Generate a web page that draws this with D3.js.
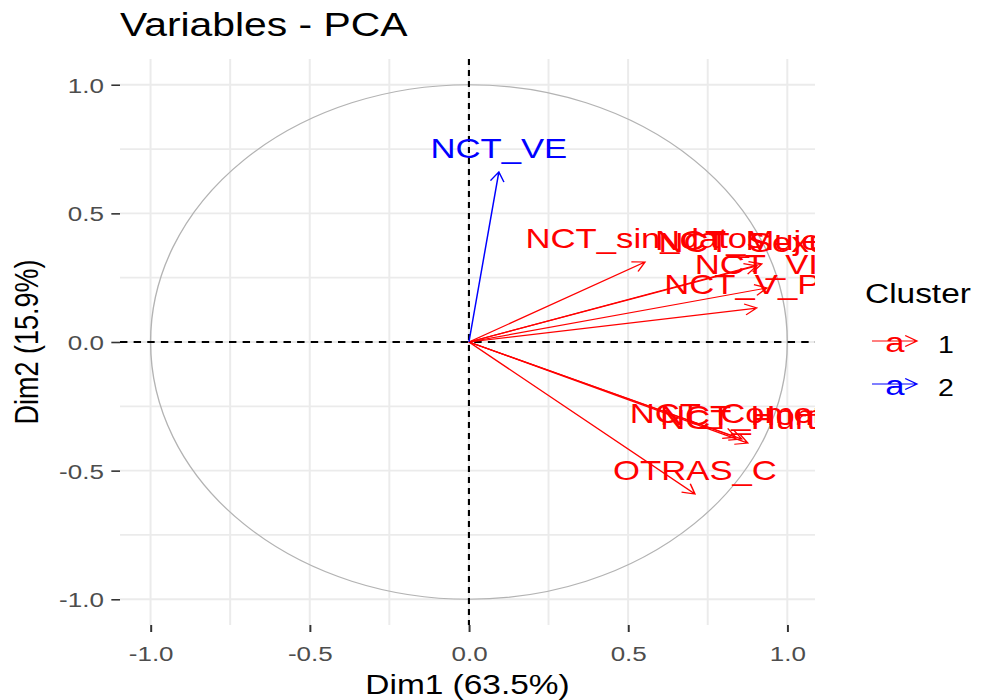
<!DOCTYPE html>
<html>
<head>
<meta charset="utf-8">
<script src="https://cdn.jsdelivr.net/npm/d3@7"></script>
<style>
  body { margin: 0; background: #fff; }
  svg { display: block; font-family: "Liberation Sans", Arial, sans-serif; }
</style>
</head>
<body>
<div id="chart"></div>
<script>
// variables and their coordinates on Dim1 / Dim2
const varNames = ['NCT_sin_datos', 'NCT_Sexual', 'NCT_Mujeres', 'NCT_VIF', 'NCT_V_Pat',
                  'NCT_Comerc', 'NCT_Hom', 'NCT_Hurto', 'OTRAS_C', 'NCT_VE'];
const dim1 = [0.553, 0.904, 0.920, 0.936, 0.904, 0.838, 0.857, 0.876, 0.710, 0.094];
const dim2 = [0.311, 0.296, 0.304, 0.210, 0.132, -0.370, -0.377, -0.393, -0.591, 0.661];
const cluster = ['1', '1', '1', '1', '1', '1', '1', '1', '1', '2'];
const clusters = ['1', '2'];
const tickValues = [-1, -0.5, 0, 0.5, 1];
const minorValues = [-0.75, -0.25, 0.25, 0.75];

// the picture is drawn narrower and stretched sideways to the window width
const outW = 981, height = 700;
const stretch = 1.2386;
const width = outW / stretch;

const panel = { left: 120 / stretch, right: 815 / stretch, top: 59, bottom: 625 };

const x = d3.scaleLinear().domain([-1.096, 1.087]).range([panel.left, panel.right]);
const y = d3.scaleLinear().domain([-1.1, 1.1]).range([panel.bottom, panel.top]);
const color = d3.scaleOrdinal().domain(clusters).range(['red', 'blue']);

const data = varNames.map((name, i) => ({ name, x: dim1[i], y: dim2[i], cluster: cluster[i] }));

const svg = d3.select('#chart').append('svg')
    .attr('width', outW)
    .attr('height', height)
    .attr('viewBox', `0 0 ${width} ${height}`)
    .attr('preserveAspectRatio', 'none');

svg.append('defs').append('clipPath').attr('id', 'panel-clip')
    .append('rect')
    .attr('x', panel.left).attr('y', panel.top)
    .attr('width', panel.right - panel.left)
    .attr('height', panel.bottom - panel.top);

// grid
const grid = svg.append('g');
const allGrid = tickValues.concat(minorValues);
grid.selectAll('.gx').data(allGrid).enter().append('line')
    .attr('x1', d => x(d)).attr('x2', d => x(d))
    .attr('y1', panel.top).attr('y2', panel.bottom)
    .attr('stroke', '#ebebeb').attr('stroke-width', 1.6);
grid.selectAll('.gy').data(allGrid).enter().append('line')
    .attr('y1', d => y(d)).attr('y2', d => y(d))
    .attr('x1', panel.left).attr('x2', panel.right)
    .attr('stroke', '#ebebeb').attr('stroke-width', 1.8);

// axes
const fmt = d => d.toFixed(1);
const xAxis = d3.axisBottom(x).tickValues(tickValues).tickFormat(fmt).tickSize(7).tickPadding(6);
const yAxis = d3.axisLeft(y).tickValues(tickValues).tickFormat(fmt).tickSize(7).tickPadding(6);

const gx = svg.append('g').attr('transform', `translate(0,${panel.bottom})`).call(xAxis);
const gy = svg.append('g').attr('transform', `translate(${panel.left},0)`).call(yAxis);
[gx, gy].forEach(g => {
    g.select('.domain').remove();
    g.selectAll('.tick line').attr('stroke', '#333').attr('stroke-width', 1.6);
    g.selectAll('.tick text').attr('fill', '#4d4d4d').attr('font-size', 21)
        .attr('font-family', '"Liberation Sans", Arial, sans-serif');
});
gx.selectAll('.tick text').attr('dy', '1.1em');
gy.selectAll('.tick text').attr('dy', '0.36em');

// correlation circle
svg.append('ellipse')
    .attr('cx', x(0)).attr('cy', y(0))
    .attr('rx', x(1) - x(0)).attr('ry', y(0) - y(1))
    .attr('fill', 'none').attr('stroke', '#b3b3b3').attr('stroke-width', 1.1);

// dashed zero lines
svg.append('line')
    .attr('x1', panel.left).attr('x2', panel.right)
    .attr('y1', y(0)).attr('y2', y(0))
    .attr('stroke', '#000').attr('stroke-width', 2).attr('stroke-dasharray', '6,5');
svg.append('line')
    .attr('x1', x(0)).attr('x2', x(0))
    .attr('y1', panel.top).attr('y2', panel.bottom)
    .attr('stroke', '#000').attr('stroke-width', 1.7).attr('stroke-dasharray', '6,5');

function arrowPath(x0, y0, x1, y1, len) {
    const a = Math.atan2(y1 - y0, x1 - x0);
    const s = Math.PI / 6;
    const p1 = [x1 - len * Math.cos(a - s), y1 - len * Math.sin(a - s)];
    const p2 = [x1 - len * Math.cos(a + s), y1 - len * Math.sin(a + s)];
    return `M${x0},${y0}L${x1},${y1}M${p1[0]},${p1[1]}L${x1},${y1}L${p2[0]},${p2[1]}`;
}

const plot = svg.append('g').attr('clip-path', 'url(#panel-clip)');

plot.selectAll('.arrow').data(data).enter().append('path')
    .attr('d', d => arrowPath(x(0), y(0), x(d.x), y(d.y), 11))
    .attr('fill', 'none')
    .attr('stroke', d => color(d.cluster))
    .attr('stroke-width', 1.2);

plot.selectAll('.label').data(data).enter().append('text')
    .attr('x', d => x(d.x))
    .attr('y', d => y(d.y) - 14)
    .attr('text-anchor', 'middle')
    .attr('font-size', 28)
    .attr('fill', d => color(d.cluster))
    .text(d => d.name);

// title and axis titles
svg.append('text')
    .attr('x', panel.left).attr('y', 36)
    .attr('font-size', 33).attr('fill', '#000')
    .text('Variables - PCA');

svg.append('text')
    .attr('x', (panel.left + panel.right) / 2).attr('y', 694)
    .attr('text-anchor', 'middle')
    .attr('font-size', 27).attr('fill', '#000')
    .text('Dim1 (63.5%)');

svg.append('text')
    .attr('transform', `translate(${38 / stretch},${(panel.top + panel.bottom) / 2}) rotate(-90)`)
    .attr('text-anchor', 'middle')
    .attr('font-size', 27).attr('fill', '#000')
    .text('Dim2 (15.9%)');

// legend
const legend = svg.append('g');
legend.append('text')
    .attr('x', 865 / stretch).attr('y', 303)
    .attr('font-size', 27).attr('fill', '#000')
    .text('Cluster');

const keys = legend.selectAll('.key').data(clusters).enter().append('g')
    .attr('transform', (d, i) => `translate(0,${345 + i * 43})`);
keys.append('path')
    .attr('d', arrowPath(872 / stretch, -4, 917 / stretch, -4, 11))
    .attr('fill', 'none')
    .attr('stroke', d => color(d))
    .attr('stroke-width', 1.2);
keys.append('text')
    .attr('x', 895 / stretch).attr('y', 7)
    .attr('text-anchor', 'middle')
    .attr('font-size', 28)
    .attr('fill', d => color(d))
    .text('a');
keys.append('text')
    .attr('x', 938 / stretch).attr('y', 8)
    .attr('font-size', 23).attr('fill', '#000')
    .text(d => d);
</script>
</body>
</html>
